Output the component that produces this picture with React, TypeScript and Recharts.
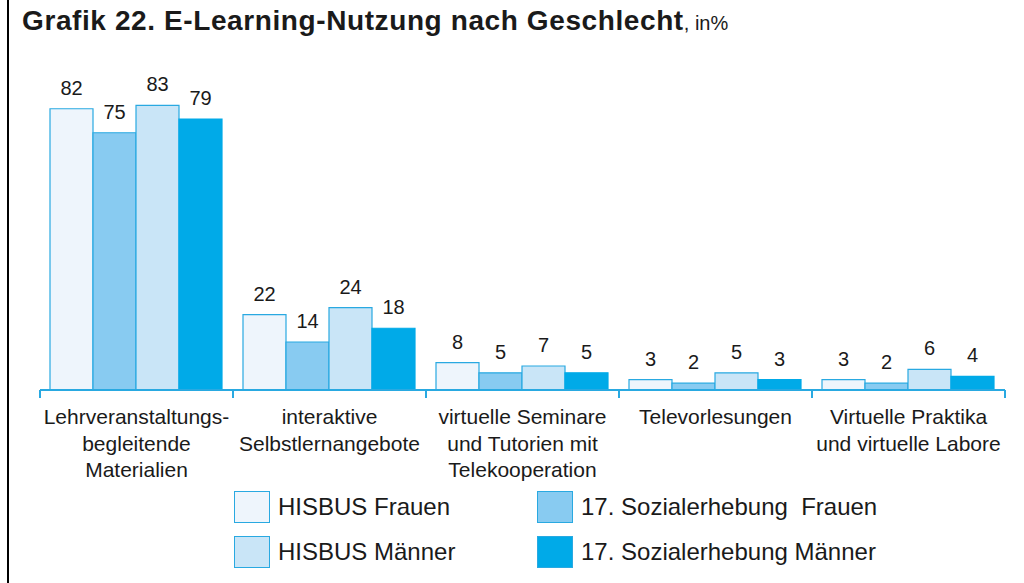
import React from "react";
import { Bar, BarChart, LabelList, XAxis, YAxis } from "recharts";

const categories = [
  "Lehrveranstaltungs-\nbegleitende\nMaterialien",
  "interaktive\nSelbstlernangebote",
  "virtuelle Seminare\nund Tutorien mit\nTelekooperation",
  "Televorlesungen",
  "Virtuelle Praktika\nund virtuelle Labore",
];

const hisbusFrauen = [82, 22, 8, 3, 3];
const sozFrauen = [75, 14, 5, 2, 2];
const hisbusMaenner = [83, 24, 7, 5, 6];
const sozMaenner = [79, 18, 5, 3, 4];

const seriesNames = [
  "HISBUS Frauen",
  "17. Sozialerhebung  Frauen",
  "HISBUS Männer",
  "17. Sozialerhebung Männer",
];

const FONT = '"Liberation Sans", Arial, Helvetica, sans-serif';
const TEXT = "#1a1a1a";
const EDGE = "#29a9e1";

const series = [
  { key: "hf", name: seriesNames[0], fill: "#eef5fc", stroke: EDGE },
  { key: "sf", name: seriesNames[1], fill: "#88cbf1", stroke: EDGE },
  { key: "hm", name: seriesNames[2], fill: "#c9e5f7", stroke: EDGE },
  { key: "sm", name: seriesNames[3], fill: "#00aae8", stroke: "#00aae8" },
];

const data = categories.map((c, i) => ({
  category: c,
  hf: hisbusFrauen[i],
  sf: sozFrauen[i],
  hm: hisbusMaenner[i],
  sm: sozMaenner[i],
}));

function CategoryTick(props: any) {
  const { x, y, payload, index } = props;
  const half = payload?.offset ?? 0;
  const lines = String(payload.value).split("\n");
  const last = index === categories.length - 1;
  return (
    <g>
      <line x1={x - half} y1={y} x2={x - half} y2={y + 8} stroke={EDGE} strokeWidth={2} />
      {last && (
        <line x1={x + half} y1={y} x2={x + half} y2={y + 8} stroke={EDGE} strokeWidth={2} />
      )}
      <text
        x={x}
        y={y + 34}
        textAnchor="middle"
        fill={TEXT}
        fontSize={21}
        fontFamily={FONT}
      >
        {lines.map((l, i) => (
          <tspan key={i} x={x} dy={i === 0 ? 0 : 26.5}>
            {l}
          </tspan>
        ))}
      </text>
    </g>
  );
}

// legend laid out as 2x2 grid
const legendCols = [234, 537];
const legendRows = [491, 536];

export default function App() {
  return (
    <div
      style={{
        position: "absolute",
        left: 0,
        top: 0,
        width: 1024,
        height: 583,
        background: "#fff",
        fontFamily: FONT,
        color: TEXT,
        overflow: "hidden",
      }}
    >
      <div style={{ position: "absolute", left: 7, top: 0, width: 2, height: 583, background: "#000" }} />
      <div
        style={{
          position: "absolute",
          left: 22,
          top: 7,
          lineHeight: "28px",
          whiteSpace: "nowrap",
        }}
      >
        <span style={{ fontSize: 28, fontWeight: "bold", letterSpacing: 0.6 }}>
          Grafik 22. E-Learning-Nutzung nach Geschlecht
        </span>
        <span style={{ fontSize: 20 }}>, in%</span>
      </div>

      <div style={{ position: "absolute", left: 0, top: 0 }}>
        <BarChart
          width={1024}
          height={500}
          data={data}
          margin={{ top: 47, right: 19, left: 40, bottom: 10 }}
          barCategoryGap={10}
          barGap={0}
        >
          <XAxis
            dataKey="category"
            interval={0}
            height={100}
            tickLine={false}
            tickSize={0}
            tickMargin={0}
            axisLine={{ stroke: EDGE, strokeWidth: 2 }}
            tick={<CategoryTick />}
          />
          <YAxis hide domain={[0, 100]} />
          {series.map((s) => (
            <Bar
              key={s.key}
              dataKey={s.key}
              name={s.name}
              fill={s.fill}
              stroke={s.stroke}
              strokeWidth={1.2}
              isAnimationActive={false}
            >
              <LabelList
                dataKey={s.key}
                position="top"
                offset={14}
                fill={TEXT}
                fontSize={20}
                fontFamily={FONT}
              />
            </Bar>
          ))}
        </BarChart>
      </div>

      {series.map((s, i) => {
        const col = i % 2;
        const row = Math.floor(i / 2);
        return (
          <div
            key={s.key}
            style={{
              position: "absolute",
              left: legendCols[col],
              top: legendRows[row],
              display: "flex",
              alignItems: "center",
              whiteSpace: "pre",
            }}
          >
            <div
              style={{
                width: 36,
                height: 32,
                background: s.fill,
                border: `1.5px solid ${EDGE}`,
                boxSizing: "border-box",
              }}
            />
            <span style={{ fontSize: 24, marginLeft: 8, lineHeight: "32px" }}>{s.name}</span>
          </div>
        );
      })}
    </div>
  );
}
